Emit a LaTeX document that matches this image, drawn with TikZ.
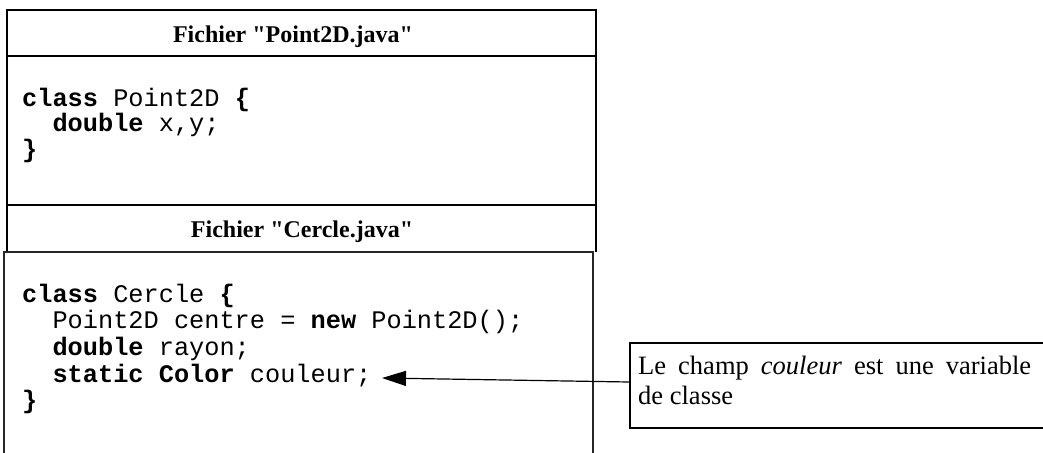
\documentclass[tikz,border=0pt]{standalone}
\usepackage{fontspec}
\setmainfont{Liberation Serif}
\setmonofont{Liberation Mono}
\usetikzlibrary{arrows.meta}
\tikzset{
  code/.style={anchor=base west, inner sep=0pt, font=\ttfamily\fontsize{25.3}{26}\selectfont},
  head/.style={anchor=base, inner sep=0pt, font=\bfseries\fontsize{24}{28}\selectfont},
  thickbox/.style={line width=1.8pt},
  thinbox/.style={line width=1.2pt, draw=black!85},
  notebox/.style={draw, line width=1.5pt, anchor=north west, inner sep=0pt, minimum height=85pt, minimum width=430pt},
  note/.style={anchor=north west, inner sep=0pt, text width=393pt, align=justify, font=\fontsize{26.5}{30}\selectfont},
  arr/.style={line width=1.2pt, -{Triangle[length=24pt, width=15pt]}}
}
\begin{document}
\begin{tikzpicture}[x=1pt, y=-1pt]
\useasboundingbox (0,0) rectangle (1043,452);
% Point2D file box
\draw[thickbox] (7,252) -- (7,10) -- (596,10) -- (596,252);
\draw[thickbox] (7,56) -- (596,56);
\draw[thickbox] (7,205) -- (596,205);
\node[head] (h1) at (293,42) {Fichier \textquotedbl Point2D.java\textquotedbl};
\node[code] (p1) at (22,106) {\textbf{class} Point2D \textbf{\{}};
\node[code] (p2) at (22,131) {\ \ \textbf{double} x,y;};
\node[code] (p3) at (22,157) {\textbf{\}}};
% Cercle header
\node[head] (h2) at (302,237) {Fichier \textquotedbl Cercle.java\textquotedbl};
% Cercle file box
\draw[thinbox] (4,455) -- (4,252) -- (593,252) -- (593,455);
\node[code] (c1) at (22,302) {\textbf{class} Cercle \textbf{\{}};
\node[code] (c2) at (22,328) {\ \ Point2D centre = \textbf{new} Point2D();};
\node[code] (c3) at (22,355) {\ \ \textbf{double} rayon;};
\node[code] (c4) at (22,382) {\ \ \textbf{static Color} couleur;};
\node[code] (c5) at (22,408) {\textbf{\}}};
% note
\node[notebox] (nb) at (629,342) {};
\node[note] (nt) at (638,356) {Le champ \textit{couleur} est une variable\linebreak de classe};
\coordinate (tip) at (382,378);
\draw[arr] (nb.west |- 0,382) -- (tip);
\end{tikzpicture}
\end{document}
